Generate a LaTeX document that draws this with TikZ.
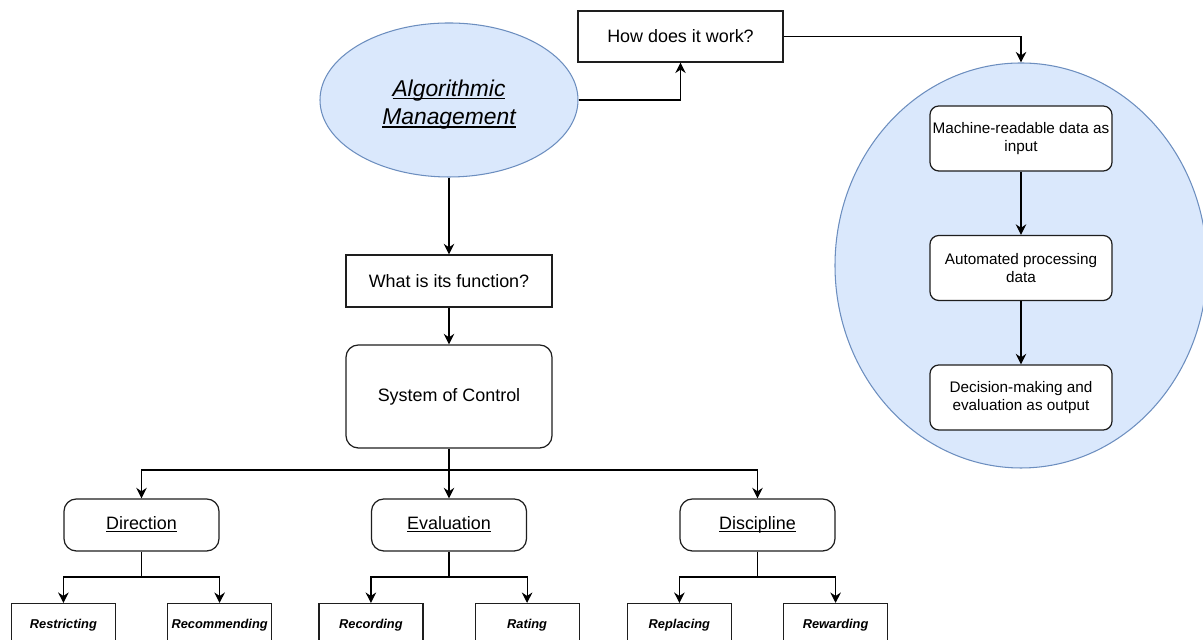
\documentclass[tikz,border=0pt]{standalone}
\usepackage{fontspec}
\setmainfont{Liberation Sans}
\usetikzlibrary{
  arrows.meta,
  positioning,
  shapes.geometric,
  calc
}
\definecolor{amfill}{HTML}{DAE8FC}
\definecolor{amdraw}{HTML}{6C8EBF}
\definecolor{boxline}{RGB}{30,30,30}

% underline close to the baseline (descenders cross it)
\newcommand{\ulabel}[1]{%
  \setbox0=\hbox{#1}\rlap{\rule[-0.12em]{\wd0}{0.055em}}\box0}

\tikzset{
  conn/.style={draw=black, line width=0.7pt},
  connarrow/.style={conn, -{Stealth[length=6pt, width=6pt, inset=2pt]}},
  plainbox/.style={draw=boxline, line width=0.7pt, fill=white, inner sep=2pt,
    align=center, font=\fontsize{10.2}{12.5}\selectfont},
  roundbox/.style={plainbox, rounded corners=7pt},
  branchbox/.style={roundbox, minimum width=3.1cm, minimum height=1.04cm,
    text height=0.75em, text depth=0.22em},
  stepbox/.style={roundbox, rounded corners=5pt, minimum width=3.64cm, minimum height=1.3cm,
    inner sep=1pt, font=\fontsize{8.7}{10.2}\selectfont},
  leafbox/.style={plainbox, minimum width=2.08cm, minimum height=0.86cm,
    font=\fontsize{7.3}{9}\selectfont\bfseries\itshape}
}

\newcommand{\drawBranch}[5]{%
  % #1 name, #2 x, #3 label, #4 left leaf, #5 right leaf
  \node[branchbox] (#1) at (#2, 2.30) {\ulabel{#3}};
  \node[leafbox, anchor=north] (#1L) at (#1.west |- 0,0.74) {#4};
  \node[leafbox, anchor=north] (#1R) at (#1.east |- 0,0.74) {#5};
  \coordinate (#1J) at (#2, 1.26);
  \draw[conn] (#1.south) -- (#1J);
  \draw[connarrow] (#1J) -| (#1L.north);
  \draw[connarrow] (#1J) -| (#1R.north);
}

\begin{document}
\begin{tikzpicture}

  \useasboundingbox (0,0) rectangle (24.06,12.8);
  \clip (0,0) rectangle (24.06,12.8);

  % -- top: the concept and its two questions --
  \node[ellipse, draw=amdraw, fill=amfill, line width=0.6pt, inner sep=0pt,
        minimum width=5.16cm, minimum height=3.08cm, align=center,
        font=\fontsize{13}{16}\selectfont\itshape] (am) at (8.98, 10.80)
    {\rule{0pt}{1.15em}\ulabel{Algorithmic}\\\ulabel{Management}};
  \node[plainbox, minimum width=4.1cm, minimum height=1.02cm] (how) at (13.61, 12.07)
    {How does it work?};
  \node[plainbox, minimum width=4.12cm, minimum height=1.04cm] (func) at (8.98, 7.18)
    {What is its function?};
  \node[roundbox, minimum width=4.12cm, minimum height=2.06cm] (soc) at (8.98, 4.87)
    {System of Control};

  \draw[connarrow] (am.east) -| (how.south);
  \draw[connarrow] (am.south) -- (func.north);
  \draw[connarrow] (func.south) -- (soc.north);

  % -- right: how it works --
  \node[ellipse, draw=amdraw, fill=amfill, line width=0.6pt, inner sep=0pt,
        minimum width=7.44cm, minimum height=8.1cm] (flow) at (20.42, 7.49) {};
  \node[stepbox] (input) at (20.42, 10.03) {Machine-readable data as\\input};
  \node[stepbox] (proc) at (20.42, 7.44) {Automated processing\\data};
  \node[stepbox] (output) at (20.42, 4.85) {Decision-making and\\evaluation as output};

  \draw[connarrow] (how.east) -| (flow.north);
  \draw[connarrow] (input.south) -- (proc.north);
  \draw[connarrow] (proc.south) -- (output.north);

  % -- bottom: the three functions --
  \drawBranch{dir}{2.83}{Direction}{Restricting}{Recommending}
  \drawBranch{eval}{8.98}{Evaluation}{Recording}{Rating}
  \drawBranch{disc}{15.15}{Discipline}{Replacing}{Rewarding}

  \coordinate (split) at (8.98, 3.40);
  \draw[conn] (soc.south) -- (split);
  \draw[connarrow] (split) -| (dir.north);
  \draw[connarrow] (split) -- (eval.north);
  \draw[connarrow] (split) -| (disc.north);

\end{tikzpicture}
\end{document}
